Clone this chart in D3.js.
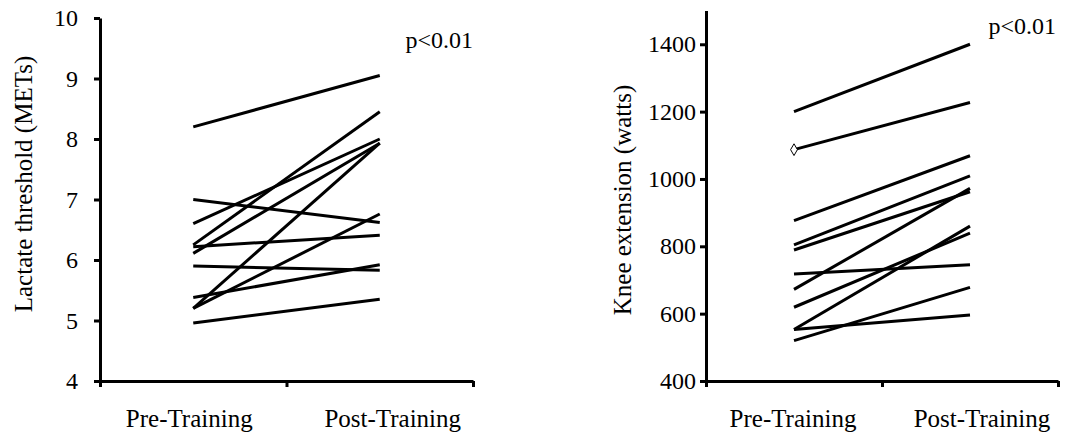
<!DOCTYPE html>
<html>
<head>
<meta charset="utf-8">
<script src="https://cdn.jsdelivr.net/npm/d3@7"></script>
<style>
  body { margin: 0; background: #fff; }
  svg text { font-family: "Liberation Serif", "Times New Roman", serif; fill: #000; }
</style>
</head>
<body>
<svg id="chart"></svg>
<script>
var categories = ['Pre-Training', 'Post-Training'];

// lactate threshold (METs), one entry per subject
var lactatePre  = [8.2, 6.6, 7.0, 6.25, 6.11, 6.22, 5.2, 5.2, 5.9, 5.38, 4.96];
var lactatePost = [9.05, 8.0, 6.62, 8.45, 7.93, 6.41, 7.93, 6.76, 5.83, 5.92, 5.35];
var lactateTicks = [4, 5, 6, 7, 8, 9, 10];

// knee extension (watts)
var kneePre  = [1200, 1087, 876, 804, 789, 718, 672, 619, 553, 553, 520];
var kneePost = [1400, 1227, 1069, 1009, 962, 745, 972, 839, 860, 596, 678];
var kneeTicks = [400, 600, 800, 1000, 1200, 1400];
var kneeMarked = [1]; // subject drawn with an open diamond at pre

var svg = d3.select('#chart')
    .attr('width', 1085)
    .attr('height', 432);

function drawPanel(p){
    var g = svg.append('g');

    var y = d3.scaleLinear().domain(p.domain).range([381, p.top]);
    var xs = d3.scaleLinear().domain([0, 2]).range([p.x0, p.x1]);
    var xc = d3.scalePoint().domain(categories).range([p.x0, p.x1]).padding(0.5);

    // y axis
    var ya = g.append('g')
        .attr('transform', 'translate(' + p.x0 + ',0)')
        .call(d3.axisLeft(y).tickValues(p.ticks).tickFormat(d3.format('d'))
            .tickSize(6).tickSizeOuter(0).tickPadding(p.pad));
    ya.style('font-family', '"Liberation Serif", "Times New Roman", serif')
      .style('font-size', '24px');
    ya.select('.domain').attr('stroke-width', 3);
    ya.selectAll('.tick line').attr('stroke-width', 3);

    // x axis (ticks only at the edges and the middle)
    var xa = g.append('g')
        .attr('transform', 'translate(0,381)')
        .call(d3.axisBottom(xs).tickValues([0, 1, 2]).tickSize(6).tickSizeOuter(0).tickFormat(''));
    xa.select('.domain').attr('stroke-width', 3);
    xa.selectAll('.tick line').attr('stroke-width', 3);

    g.selectAll('.cat')
        .data(categories)
        .enter().append('text')
        .attr('class', 'cat')
        .attr('x', function(d, i){ return xc(d) + p.labelShift[i]; })
        .attr('y', 427)
        .attr('text-anchor', 'middle')
        .style('font-size', '25px')
        .text(function(d){ return d; });

    var pairs = p.pre.map(function(v, i){ return [v, p.post[i]]; });

    g.selectAll('.subj')
        .data(pairs)
        .enter().append('line')
        .attr('class', 'subj')
        .attr('x1', xc(categories[0]))
        .attr('x2', xc(categories[1]))
        .attr('y1', function(d){ return y(d[0]); })
        .attr('y2', function(d){ return y(d[1]); })
        .attr('stroke', '#000')
        .attr('stroke-width', 3);

    if (p.marked){
        g.selectAll('.mark')
            .data(p.marked)
            .enter().append('path')
            .attr('class', 'mark')
            .attr('d', d3.symbol().type(d3.symbolDiamond).size(40))
            .attr('transform', function(i){ return 'translate(' + xc(categories[0]) + ',' + y(p.pre[i]) + ')'; })
            .attr('fill', '#fff')
            .attr('stroke', '#000')
            .attr('stroke-width', 1);
    }

    g.append('text')
        .attr('transform', 'translate(' + p.titleX + ',' + p.titleY + ') rotate(-90)')
        .attr('text-anchor', 'middle')
        .style('font-size', '25px')
        .text(p.title);

    g.append('text')
        .attr('x', p.pX)
        .attr('y', p.pY)
        .attr('text-anchor', 'end')
        .style('font-size', '24px')
        .text('p<0.01');
}

drawPanel({
    x0: 100, x1: 473, top: 18,
    domain: [4, 10], ticks: lactateTicks, pad: 16,
    pre: lactatePre, post: lactatePost,
    title: 'Lactate threshold (METs)', titleX: 32, titleY: 184,
    pX: 473, pY: 48, labelShift: [-4, 13]
});

drawPanel({
    x0: 706, x1: 1058, top: 10.6,
    domain: [400, 1500], ticks: kneeTicks, pad: 4,
    pre: kneePre, post: kneePost, marked: kneeMarked,
    title: 'Knee extension (watts)', titleX: 631, titleY: 200,
    pX: 1056, pY: 34, labelShift: [-1, 12]
});
</script>
</body>
</html>
